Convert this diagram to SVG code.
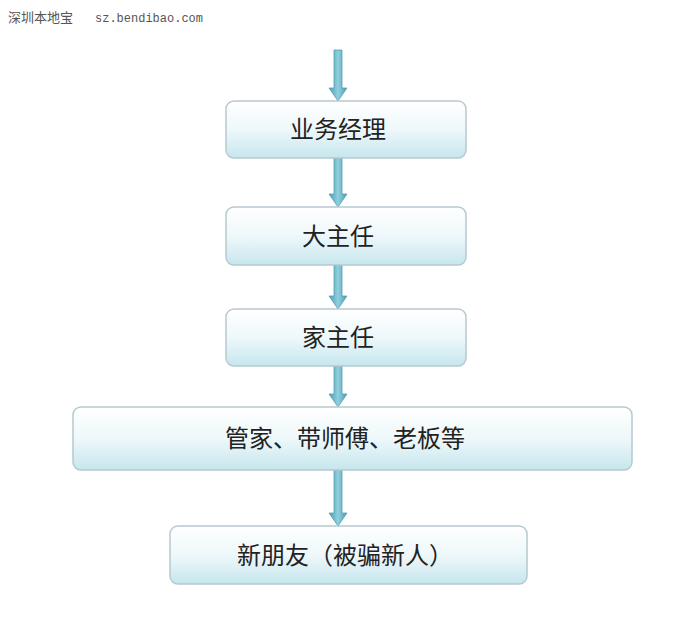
<svg xmlns="http://www.w3.org/2000/svg" width="700" height="640" viewBox="0 0 700 640">
<defs>
<linearGradient id="g" x1="0" y1="0" x2="0" y2="1">
<stop offset="0" stop-color="#ffffff"/><stop offset="0.5" stop-color="#eef8fa"/><stop offset="1" stop-color="#c6e6ee"/>
</linearGradient>
<linearGradient id="ag" x1="0" y1="0" x2="1" y2="0">
<stop offset="0" stop-color="#4a9db3"/><stop offset="0.5" stop-color="#8fd0de"/><stop offset="1" stop-color="#4a9db3"/>
</linearGradient>
</defs>
<style>
.box{fill:url(#g);stroke:#b7c9cf;stroke-width:1.5}
.t{font-family:"Noto Sans CJK SC",sans-serif;font-size:24px;fill:#222;text-anchor:middle}
.a{fill:url(#ag);stroke:#5a9fb0;stroke-width:0.8}
</style>
<rect width="700" height="640" fill="#fff"/>
<text x="8" y="22" font-family="Noto Sans CJK SC,sans-serif" font-size="13" fill="#555">深圳本地宝</text>
<text x="95" y="22" font-family="Liberation Mono,monospace" font-size="12" fill="#555">sz.bendibao.com</text>
<g id="connectors">
<path class="a" d="M334,50 h8 v38 h5 l-9,13 l-9,-13 h5z"/>
<path class="a" d="M334,158 h8 v36 h5 l-9,13 l-9,-13 h5z"/>
<path class="a" d="M334,265 h8 v31 h5 l-9,13 l-9,-13 h5z"/>
<path class="a" d="M334,366 h8 v28 h5 l-9,13 l-9,-13 h5z"/>
<path class="a" d="M334,470 h8 v43 h5 l-9,13 l-9,-13 h5z"/>
</g>
<g id="n1"><rect class="box" x="226" y="101" width="240" height="57" rx="8"/><text class="t" x="338" y="138">业务经理</text></g>
<g id="n2"><rect class="box" x="226" y="207" width="240" height="58" rx="8"/><text class="t" x="338" y="245">大主任</text></g>
<g id="n3"><rect class="box" x="226" y="309" width="240" height="57" rx="8"/><text class="t" x="338" y="346">家主任</text></g>
<g id="n4"><rect class="box" x="73" y="407" width="559" height="63" rx="8"/><text class="t" x="345" y="447">管家、带师傅、老板等</text></g>
<g id="n5"><rect class="box" x="170" y="526" width="357" height="58" rx="8"/><text class="t" x="345" y="564">新朋友（被骗新人）</text></g>
</svg>
